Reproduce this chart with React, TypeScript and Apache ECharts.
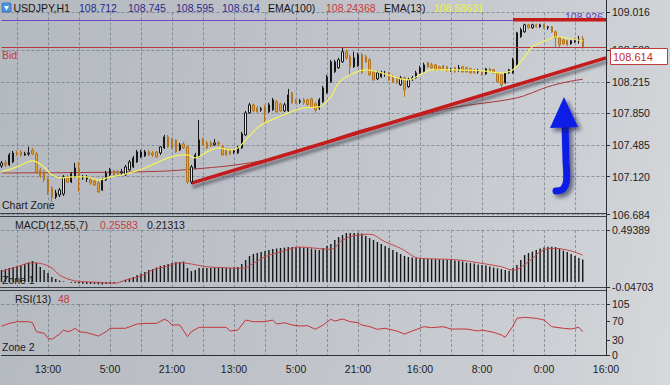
import React, { useEffect, useRef } from "react";
import * as echarts from "echarts";

const FONT = '"Liberation Sans", Arial, sans-serif';

// ---- axis tick labels ----
const timeLabels = ["13:00", "5:00", "21:00", "13:00", "5:00", "21:00", "16:00", "8:00", "0:00", "16:00"];
const firstLabelIndex = 12;
const labelStep = 16;
const gridOffset = 4;
const gridStep = 8;
const barCount = 157;
const priceTicks = [106.684, 107.12, 107.485, 107.85, 108.215, 108.58, 109.016];
const macdTicks = [-0.04703, 0.49389];
const rsiTicks = [0, 30, 70, 105];

// ---- header values ----
const symbolName = "USDJPY,H1";
const ohlcNow = ["108.712", "108.745", "108.595", "108.614"];
const ema100Now = "108.24368";
const ema13Now = "108.68631";
const macdNow = ["0.25583", "0.21313"];
const rsiNow = "48";

// ---- price data: [open, close, low, high] ----
const candles = [
  [107.244, 107.279, 107.221, 107.302], [107.279, 107.256, 107.233, 107.313], [107.256, 107.371, 107.244, 107.394],
  [107.29, 107.394, 107.279, 107.417], [107.394, 107.383, 107.36, 107.417], [107.406, 107.371, 107.348, 107.429],
  [107.371, 107.383, 107.36, 107.406], [107.383, 107.394, 107.36, 107.464], [107.429, 107.383, 107.371, 107.452],
  [107.383, 107.175, 107.152, 107.406], [107.198, 107.129, 107.106, 107.221], [107.175, 107.083, 107.059, 107.198],
  [107.083, 106.944, 106.909, 107.106], [106.99, 106.886, 106.828, 107.013], [106.886, 106.932, 106.863, 106.967],
  [106.909, 106.967, 106.886, 106.99], [106.921, 107.117, 106.898, 107.14], [107.117, 107.059, 107.048, 107.14],
  [107.059, 107.152, 107.048, 107.175], [107.117, 107.221, 107.106, 107.279], [107.198, 107.117, 106.944, 107.29],
  [107.106, 107.117, 107.083, 107.14], [107.094, 107.106, 107.059, 107.14], [107.083, 107.048, 107.025, 107.106],
  [107.071, 107.025, 107.013, 107.094], [107.048, 106.944, 106.932, 107.071], [106.967, 107.083, 106.955, 107.106],
  [107.083, 107.163, 107.071, 107.187], [107.14, 107.198, 107.129, 107.221], [107.187, 107.14, 107.129, 107.198],
  [107.175, 107.152, 107.14, 107.198], [107.163, 107.175, 107.14, 107.21], [107.14, 107.233, 107.129, 107.256],
  [107.198, 107.29, 107.187, 107.313], [107.233, 107.337, 107.221, 107.36], [107.29, 107.406, 107.279, 107.429],
  [107.348, 107.406, 107.337, 107.429], [107.36, 107.406, 107.348, 107.429], [107.406, 107.371, 107.36, 107.429],
  [107.394, 107.371, 107.348, 107.417], [107.406, 107.348, 107.337, 107.417], [107.394, 107.464, 107.371, 107.475],
  [107.452, 107.579, 107.44, 107.602], [107.579, 107.464, 107.452, 107.602], [107.544, 107.452, 107.44, 107.568],
  [107.544, 107.406, 107.394, 107.556], [107.429, 107.487, 107.417, 107.51], [107.498, 107.452, 107.44, 107.521],
  [107.464, 107.059, 107.036, 107.475], [107.059, 107.233, 107.036, 107.256], [107.221, 107.371, 107.21, 107.394],
  [107.348, 107.544, 107.337, 107.775], [107.544, 107.487, 107.475, 107.568], [107.51, 107.452, 107.44, 107.533],
  [107.51, 107.475, 107.464, 107.533], [107.487, 107.51, 107.475, 107.556], [107.51, 107.498, 107.475, 107.533],
  [107.464, 107.371, 107.36, 107.487], [107.44, 107.371, 107.36, 107.452], [107.429, 107.383, 107.371, 107.44],
  [107.406, 107.417, 107.383, 107.44], [107.394, 107.464, 107.383, 107.475], [107.452, 107.614, 107.44, 107.637],
  [107.602, 107.856, 107.591, 107.879], [107.856, 107.949, 107.845, 107.972], [107.949, 107.879, 107.868, 107.96],
  [107.914, 107.868, 107.856, 107.937], [107.891, 107.902, 107.868, 107.925], [107.925, 107.868, 107.741, 107.949],
  [107.868, 107.949, 107.856, 107.972], [107.891, 108.006, 107.879, 108.029], [107.983, 107.868, 107.856, 108.006],
  [107.96, 107.879, 107.868, 107.972], [107.879, 107.949, 107.868, 107.972], [107.879, 108.064, 107.868, 108.133],
  [108.087, 107.972, 107.96, 108.099], [107.995, 107.972, 107.96, 108.018], [107.983, 107.995, 107.96, 108.018],
  [108.006, 107.972, 107.949, 108.029], [108.006, 107.949, 107.937, 108.018], [108.018, 107.925, 107.914, 108.029],
  [107.96, 107.891, 107.856, 107.983], [107.914, 108.006, 107.891, 108.029], [107.983, 108.145, 107.972, 108.168],
  [108.087, 108.272, 108.076, 108.295], [108.214, 108.445, 108.203, 108.468], [108.33, 108.445, 108.318, 108.468],
  [108.376, 108.468, 108.364, 108.491], [108.445, 108.561, 108.434, 108.607], [108.561, 108.491, 108.468, 108.584],
  [108.503, 108.387, 108.295, 108.526], [108.387, 108.491, 108.376, 108.561], [108.399, 108.526, 108.387, 108.549],
  [108.526, 108.318, 108.306, 108.549], [108.503, 108.445, 108.434, 108.526], [108.468, 108.295, 108.283, 108.491],
  [108.33, 108.237, 108.226, 108.353], [108.249, 108.318, 108.237, 108.341], [108.272, 108.318, 108.26, 108.341],
  [108.295, 108.306, 108.272, 108.341], [108.318, 108.237, 108.226, 108.33], [108.272, 108.214, 108.203, 108.295],
  [108.26, 108.203, 108.191, 108.272], [108.18, 108.26, 108.168, 108.283], [108.26, 108.122, 108.041, 108.272],
  [108.157, 108.237, 108.145, 108.26], [108.237, 108.26, 108.226, 108.283], [108.26, 108.318, 108.249, 108.341],
  [108.318, 108.376, 108.306, 108.399], [108.33, 108.41, 108.318, 108.434], [108.434, 108.387, 108.376, 108.445],
  [108.41, 108.376, 108.364, 108.434], [108.41, 108.353, 108.341, 108.422], [108.387, 108.353, 108.341, 108.399],
  [108.399, 108.364, 108.353, 108.41], [108.387, 108.353, 108.33, 108.399], [108.341, 108.353, 108.33, 108.376],
  [108.376, 108.33, 108.318, 108.387], [108.364, 108.376, 108.33, 108.41], [108.387, 108.33, 108.318, 108.399],
  [108.376, 108.33, 108.318, 108.387], [108.364, 108.318, 108.306, 108.376], [108.353, 108.318, 108.306, 108.364],
  [108.33, 108.341, 108.306, 108.364], [108.33, 108.295, 108.283, 108.341], [108.306, 108.364, 108.295, 108.376],
  [108.364, 108.341, 108.33, 108.376], [108.353, 108.318, 108.306, 108.364], [108.318, 108.214, 108.203, 108.33],
  [108.295, 108.18, 108.145, 108.306], [108.203, 108.318, 108.191, 108.33], [108.318, 108.353, 108.306, 108.364],
  [108.318, 108.468, 108.306, 108.491], [108.41, 108.78, 108.399, 108.791], [108.734, 108.815, 108.722, 108.838],
  [108.791, 108.872, 108.78, 108.884], [108.872, 108.838, 108.826, 108.884], [108.838, 108.872, 108.826, 108.884],
  [108.872, 108.849, 108.838, 108.884], [108.849, 108.872, 108.838, 108.884], [108.872, 108.838, 108.826, 108.884],
  [108.838, 108.849, 108.815, 108.861], [108.849, 108.791, 108.78, 108.861], [108.791, 108.722, 108.607, 108.803],
  [108.722, 108.641, 108.607, 108.734], [108.699, 108.653, 108.641, 108.711], [108.688, 108.641, 108.63, 108.699],
  [108.653, 108.688, 108.641, 108.699], [108.676, 108.688, 108.664, 108.711], [108.688, 108.699, 108.653, 108.745],
  [108.712, 108.614, 108.595, 108.745],
];

// [bar index, value]
const ema13 = [
  [0, 107.175], [4, 107.233], [8, 107.302], [11, 107.233], [13, 107.14], [16, 107.106], [18, 107.117], [22, 107.117],
  [25, 107.083], [28, 107.117], [31, 107.14], [34, 107.175], [37, 107.221], [40, 107.279], [43, 107.337], [47, 107.371],
  [48, 107.371], [50, 107.337], [53, 107.406], [56, 107.452], [59, 107.429], [61, 107.452], [63, 107.544], [66, 107.683],
  [68, 107.741], [71, 107.798], [74, 107.856], [78, 107.914], [82, 107.925], [85, 108.041], [87, 108.203], [90, 108.295],
  [94, 108.353], [98, 108.318], [103, 108.249], [105, 108.237], [108, 108.295], [111, 108.353], [117, 108.353],
  [124, 108.341], [129, 108.318], [132, 108.353], [135, 108.503], [137, 108.618], [141, 108.699], [143, 108.734],
  [147, 108.711], [150, 108.686],
];
const ema100 = [
  [0, 107.163], [40, 107.181], [56, 107.233], [64, 107.279], [73, 107.36], [78, 107.429], [85, 107.544], [92, 107.648],
  [99, 107.729], [108, 107.821], [116, 107.914], [133, 108.029], [141, 108.157], [146, 108.214], [150, 108.244],
];
const trendLine = [[48.5, 107.045], [156, 108.49]];
const resistanceLine = [[132, 108.93], [156, 108.93]];
const bidPrice = 108.614;
const levelPrice = 108.926;

const macdHist = [
  0.114, 0.123, 0.133, 0.142, 0.152, 0.161, 0.171, 0.185, 0.199, 0.18,
  0.142, 0.114, 0.085, 0.047, 0.028, 0.014, 0.005, 0.0, -0.007, -0.009,
  -0.014, -0.016, -0.019, -0.019, -0.019, -0.022, -0.024, -0.019, -0.019, -0.009,
  0.0, 0.009, 0.019, 0.033, 0.047, 0.066, 0.081, 0.095, 0.114, 0.123,
  0.138, 0.152, 0.161, 0.171, 0.18, 0.19, 0.19, 0.195, 0.133, 0.104,
  0.114, 0.133, 0.133, 0.133, 0.133, 0.138, 0.142, 0.138, 0.133, 0.133,
  0.138, 0.142, 0.171, 0.209, 0.247, 0.266, 0.275, 0.285, 0.294, 0.304,
  0.313, 0.318, 0.323, 0.327, 0.332, 0.332, 0.332, 0.332, 0.327, 0.323,
  0.318, 0.308, 0.304, 0.323, 0.342, 0.361, 0.398, 0.427, 0.446, 0.465,
  0.465, 0.465, 0.465, 0.46, 0.436, 0.417, 0.398, 0.38, 0.361, 0.342,
  0.323, 0.304, 0.285, 0.266, 0.247, 0.237, 0.232, 0.228, 0.225, 0.223,
  0.221, 0.218, 0.218, 0.215, 0.213, 0.212, 0.209, 0.204, 0.199, 0.195,
  0.183, 0.18, 0.176, 0.166, 0.161, 0.157, 0.147, 0.138, 0.13, 0.123,
  0.114, 0.107, 0.133, 0.161, 0.209, 0.256, 0.275, 0.289, 0.304, 0.318,
  0.327, 0.335, 0.335, 0.332, 0.318, 0.299, 0.285, 0.266, 0.247, 0.228,
  0.213,
];
const macdSignal = [
  [0, 0.098], [4, 0.145], [8, 0.183], [10, 0.177], [13, 0.133], [15, 0.066], [18, 0.019], [20, 0.007], [25, -0.003],
  [29, -0.012], [32, 0.019], [36, 0.057], [39, 0.114], [43, 0.152], [46, 0.183], [49, 0.171], [53, 0.145], [58, 0.136],
  [62, 0.13], [65, 0.177], [68, 0.24], [73, 0.297], [77, 0.332], [82, 0.318], [85, 0.31], [88, 0.398], [92, 0.446],
  [95, 0.453], [99, 0.382], [103, 0.32], [108, 0.225], [113, 0.218], [118, 0.209], [123, 0.183], [129, 0.145],
  [132, 0.114], [136, 0.193], [139, 0.287], [142, 0.32], [146, 0.304], [150, 0.256],
];
const rsi = [
  [0, 59.7], [2, 65], [4, 68.6], [7, 68.6], [8, 66.5], [9, 48], [11, 44.6], [12, 34.3], [13, 32.3], [14, 37.7],
  [15, 43.2], [16, 51.5], [17, 48], [18, 50], [19, 55], [20, 48], [22, 46], [25, 39], [27, 48], [28, 55], [32, 55],
  [35, 63.8], [37, 65], [40, 65], [42, 73.5], [43, 70], [44, 61.8], [46, 61.8], [48, 37.7], [49, 48], [51, 57],
  [55, 57], [58, 57], [59, 49.4], [61, 51.5], [63, 72], [65, 68.6], [68, 68.6], [70, 72], [71, 63.8], [73, 66.5],
  [75, 61.8], [77, 59.7], [79, 60.4], [81, 52.9], [83, 61.8], [85, 73.5], [86, 70], [88, 74.1], [90, 68.6],
  [92, 66.5], [93, 61.8], [95, 58.3], [97, 52.9], [99, 55], [102, 49.4], [104, 43.2], [106, 49.4], [109, 58.3],
  [111, 56.2], [114, 58.3], [116, 53.5], [120, 53.5], [123, 49.4], [124, 51.5], [127, 46.7], [129, 41.2],
  [130, 36.4], [131, 48], [132, 59.7], [133, 75.5], [135, 77.6], [138, 75.5], [140, 72], [142, 58.3], [145, 55],
  [147, 53.5], [149, 57], [150, 48],
];

const categories = Array.from({ length: barCount }, (_, i) => String(i));
const labelAt = (i: number) =>
  i >= firstLabelIndex && (i - firstLabelIndex) % labelStep === 0
    ? timeLabels[(i - firstLabelIndex) / labelStep] || ""
    : "";

const GRID_LINE = { color: "rgba(90,100,116,0.55)", width: 1, type: [3, 2] as any };
const TEXT = "#1c1c1c";

function xAxisFor(gridIndex: number, showLabels: boolean) {
  return {
    type: "category",
    gridIndex,
    data: categories,
    boundaryGap: false,
    axisLine: { show: showLabels, lineStyle: { color: "#2b3038", width: 1 } },
    axisTick: { show: false },
    axisLabel: {
      show: showLabels,
      interval: (i: number) => labelAt(i) !== "",
      formatter: (_v: string, i: number) => labelAt(i),
      color: TEXT,
      fontFamily: FONT,
      fontSize: 10.5,
      margin: 8,
    },
    splitLine: {
      show: true,
      interval: (i: number) => i >= gridOffset && (i - gridOffset) % gridStep === 0,
      lineStyle: GRID_LINE,
    },
  };
}

function yAxisFor(gridIndex: number, min: number, max: number, ticks: number[], digits: number, split: boolean) {
  return {
    type: "value",
    gridIndex,
    position: "right",
    min,
    max,
    axisLine: { show: false },
    axisTick: { show: true, length: 4, customValues: ticks, lineStyle: { color: "#2b3038" } },
    axisLabel: {
      customValues: ticks,
      formatter: (v: number) => v.toFixed(digits),
      color: TEXT,
      fontFamily: FONT,
      fontSize: 10.5,
      margin: 6,
      showMinLabel: true,
      showMaxLabel: true,
    },
    splitLine: { show: split, lineStyle: GRID_LINE },
  };
}

function txt(x: number, y: number, text: string, fill: string, extra: any = {}) {
  return {
    type: "text",
    x,
    y,
    z: 50,
    silent: true,
    style: { text, fill, font: `10.5px ${FONT}`, textVerticalAlign: "middle", verticalAlign: "middle", ...extra },
  };
}
function hline(y: number, x1: number, x2: number, color: string) {
  return { type: "line", z: 40, silent: true, shape: { x1, y1: y, x2, y2: y }, style: { stroke: color, lineWidth: 1 } };
}

export default function App() {
  const ref = useRef<HTMLDivElement>(null);
  useEffect(() => {
    const chart = echarts.init(ref.current!, null, { renderer: "svg" });
    const option: any = {
      animation: false,
      backgroundColor: "transparent",
      grid: [
        { left: 1.5, right: 64, top: 12.3, height: 202.2 },
        { left: 1.5, right: 64, top: 230, height: 57 },
        { left: 1.5, right: 64, top: 304, height: 51 },
      ],
      xAxis: [xAxisFor(0, false), xAxisFor(1, false), xAxisFor(2, true)],
      yAxis: [
        yAxisFor(0, priceTicks[0], priceTicks[priceTicks.length - 1], priceTicks, 3, true),
        yAxisFor(1, macdTicks[0], macdTicks[1], macdTicks, 5, true),
        yAxisFor(2, rsiTicks[0], rsiTicks[rsiTicks.length - 1], rsiTicks, 0, false),
      ],
      series: [
        {
          type: "line",
          xAxisIndex: 0,
          yAxisIndex: 0,
          data: ema100,
          symbol: "none",
          smooth: 0.3,
          z: 2,
          lineStyle: { color: "#a8383a", width: 1 },
        },
        {
          type: "line",
          xAxisIndex: 0,
          yAxisIndex: 0,
          data: trendLine,
          symbol: "none",
          z: 3,
          lineStyle: {
            color: "#c41b1b",
            width: 3.5,
            shadowColor: "rgba(50,50,60,0.55)",
            shadowBlur: 3,
            shadowOffsetX: 1,
            shadowOffsetY: 4,
          },
        },
        {
          type: "candlestick",
          xAxisIndex: 0,
          yAxisIndex: 0,
          data: candles,
          barMaxWidth: 3,
          z: 4,
          itemStyle: {
            color: "#e2e4e6",
            color0: "#e2a23c",
            borderColor: "#161616",
            borderColor0: "#b5741e",
            borderWidth: 1,
          },
          markLine: {
            silent: true,
            symbol: "none",
            label: { show: false },
            data: [
              { yAxis: bidPrice, lineStyle: { color: "#b8393b", width: 1, type: "solid" } },
              { yAxis: levelPrice, lineStyle: { color: "#7246c4", width: 1, type: "solid" } },
            ],
          },
        },
        {
          type: "line",
          xAxisIndex: 0,
          yAxisIndex: 0,
          data: ema13,
          symbol: "none",
          smooth: 0.35,
          z: 5,
          lineStyle: { color: "#f4f25c", width: 1.2 },
        },
        {
          type: "line",
          xAxisIndex: 0,
          yAxisIndex: 0,
          data: resistanceLine,
          symbol: "none",
          z: 6,
          lineStyle: { color: "#c41b1b", width: 3.5 },
        },
        {
          type: "bar",
          xAxisIndex: 1,
          yAxisIndex: 1,
          data: macdHist,
          barWidth: 1.4,
          z: 3,
          itemStyle: { color: "#161616" },
        },
        {
          type: "line",
          xAxisIndex: 1,
          yAxisIndex: 1,
          data: macdSignal,
          symbol: "none",
          smooth: 0.4,
          z: 4,
          lineStyle: { color: "#c2454a", width: 1 },
        },
        {
          type: "line",
          xAxisIndex: 2,
          yAxisIndex: 2,
          data: rsi,
          symbol: "none",
          z: 4,
          lineStyle: { color: "#c3363a", width: 1 },
          markLine: {
            silent: true,
            symbol: "none",
            label: { show: false },
            data: [{ yAxis: rsiTicks[rsiTicks.length - 1] }],
            lineStyle: GRID_LINE,
          },
        },
      ],
      graphic: [
        // panel frames
        hline(213.5, 0, 606, "#3a4048"),
        hline(216.5, 0, 606, "#3a4048"),
        hline(287.5, 0, 606, "#3a4048"),
        hline(290.5, 0, 606, "#3a4048"),
        { type: "line", z: 40, silent: true, shape: { x1: 606.5, y1: 0, x2: 606.5, y2: 356 }, style: { stroke: "#2b3038", lineWidth: 1 } },
        // header icon
        { type: "rect", z: 50, silent: true, shape: { x: 2, y: 3, width: 9, height: 9, r: 1 }, style: { fill: "#4d92dc", stroke: "#2e6fb8", lineWidth: 0.8 } },
        { type: "polygon", z: 51, silent: true, shape: { points: [[4, 6], [9, 6], [6.5, 10.5]] }, style: { fill: "#ffffff" } },
        txt(13.5, 8, symbolName, "#151515"),
        txt(79, 8, ohlcNow[0], "#2b2b8e"),
        txt(128, 8, ohlcNow[1], "#2b2b8e"),
        txt(176, 8, ohlcNow[2], "#2b2b8e"),
        txt(222, 8, ohlcNow[3], "#2b2b8e"),
        txt(268, 8, "EMA(100)", "#151515"),
        txt(326, 8, ema100Now, "#c83a3a"),
        txt(384, 8, "EMA(13)", "#151515"),
        txt(434, 8, ema13Now, "#eeee50"),
        // level labels
        { ...txt(603, 16.5, levelPrice.toFixed(3), "#6a40c0", { align: "right", textAlign: "right" }), z: 1 },
        txt(2, 55, "Bid", "#c23a3a"),
        { type: "rect", z: 60, silent: true, shape: { x: 610.5, y: 48.5, width: 57, height: 16 }, style: { fill: "#ffffff", stroke: "#c23a3a", lineWidth: 1 } },
        { ...txt(613, 57, bidPrice.toFixed(3), "#c22a2a", { font: `11px ${FONT}` }), z: 61 },
        // panel captions
        txt(2, 205, "Chart Zone", "#1a1a1a"),
        txt(15, 225, "MACD(12,55,7)", "#1a1a1a"),
        txt(100, 225, macdNow[0], "#c84044"),
        txt(147, 225, macdNow[1], "#1a1a1a"),
        { ...txt(2, 280, "Zone 1", "#1a1a1a"), z: 1 },
        txt(15, 299, "RSI(13)", "#1a1a1a"),
        txt(58, 299, rsiNow, "#c83a3a"),
        txt(2, 347, "Zone 2", "#1a1a1a"),
        // blue arrow
        {
          type: "polyline",
          z: 70,
          silent: true,
          shape: { points: [[565, 124], [566, 160], [566.5, 181], [563, 189], [556, 191]], smooth: 0.35 },
          style: {
            stroke: "#0d1fe6",
            lineWidth: 7,
            fill: null,
            lineCap: "round",
            shadowColor: "rgba(25,25,60,0.6)",
            shadowBlur: 4,
            shadowOffsetX: 3,
            shadowOffsetY: 3,
          },
        },
        {
          type: "polygon",
          z: 71,
          silent: true,
          shape: { points: [[564, 97], [550, 128], [578, 127]] },
          style: {
            fill: "#0d1fe6",
            shadowColor: "rgba(25,25,60,0.6)",
            shadowBlur: 4,
            shadowOffsetX: 3,
            shadowOffsetY: 3,
          },
        },
      ],
    };
    chart.setOption(option);
    return () => chart.dispose();
  }, []);
  return (
    <div
      style={{
        position: "fixed",
        left: 0,
        top: 0,
        width: 670,
        height: 385,
        background: "linear-gradient(100deg, #b4b8bf 0%, #bfc3c9 45%, #cdd0d4 85%, #d6d8db 100%)",
      }}
    >
      <div ref={ref} style={{ width: 670, height: 385 }} />
    </div>
  );
}
